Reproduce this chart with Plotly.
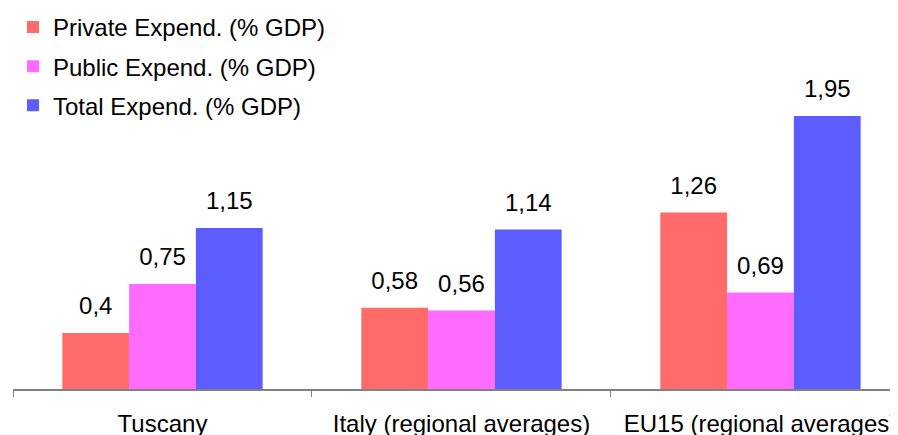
import plotly.graph_objects as go

categories = ["Tuscany", "Italy (regional averages)", "EU15 (regional averages)"]
series_names = ["Private Expend. (% GDP)", "Public Expend. (% GDP)", "Total Expend. (% GDP)"]
private_vals = [0.4, 0.58, 1.26]
public_vals = [0.75, 0.56, 0.69]
total_vals = [1.15, 1.14, 1.95]
series_values = [private_vals, public_vals, total_vals]
colors = ["#ff6a6a", "#ff6aff", "#5c5cff"]

FONT = "Liberation Sans, Arial, sans-serif"
FS = 24

fig = go.Figure()
for name, vals, col in zip(series_names, series_values, colors):
    fig.add_trace(go.Bar(
        x=categories, y=vals, name=name, offsetgroup=name, legendgroup=name,
        marker=dict(color=col, line=dict(width=0)), hoverinfo="skip",
    ))
for name, vals in zip(series_names, series_values):
    fig.add_trace(go.Scatter(
        x=categories, y=vals, mode="markers+text", offsetgroup=name, legendgroup=name,
        text=[f"{v:g}".replace(".", ",") for v in vals],
        textposition="top center", showlegend=False, hoverinfo="skip",
        marker=dict(size=19, color="rgba(0,0,0,0)"),
        textfont=dict(family=FONT, size=FS, color="#000000"),
    ))

fig.update_layout(
    width=890, height=427,
    margin=dict(l=5, r=0, t=2, b=46, autoexpand=False),
    paper_bgcolor="white", plot_bgcolor="white",
    barmode="group", bargap=0.33, bargroupgap=0,
    scattermode="group", scattergap=0.33,
    font=dict(family=FONT, size=FS, color="#000000"),
    showlegend=True,
    legend=dict(
        x=0, y=1.0136, xanchor="left", yanchor="top", bgcolor="rgba(0,0,0,0)",
        font=dict(family=FONT, size=FS, color="#000000"),
        tracegroupgap=5, traceorder="grouped",
    ),
    xaxis=dict(
        type="category", range=[-0.5, 2.46], showgrid=False, zeroline=False,
        showline=True, linecolor="#808080", linewidth=2, tickangle=0,
        ticks="outside", tickson="boundaries", ticklen=6, tickcolor="#808080", tickwidth=1,
        ticklabelstandoff=12,
        tickfont=dict(family=FONT, size=FS, color="#000000"), automargin=False,
    ),
    yaxis=dict(range=[0, 2.707], visible=False, showgrid=False, zeroline=False),
)

fig.write_html("out.html")
